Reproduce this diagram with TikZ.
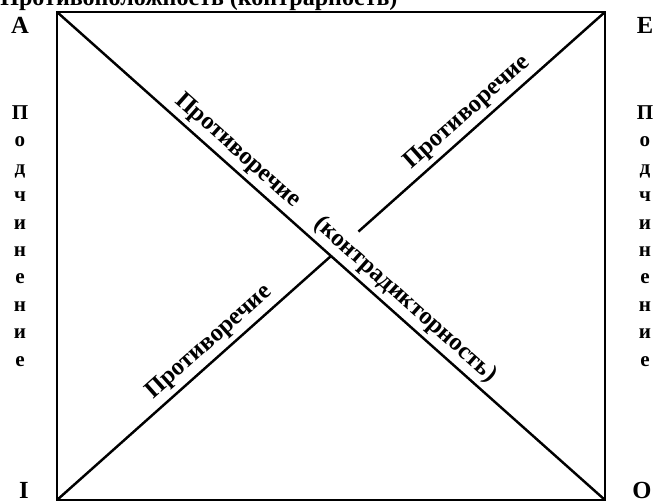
\documentclass[tikz,border=0pt]{standalone}
\usepackage{fontspec}
\setmainfont{Liberation Serif}
\usetikzlibrary{positioning,calc}

\begin{document}
\begin{tikzpicture}[x=0.02cm, y=-0.02cm,
  edge/.style={line width=1.4pt},
  title/.style={font=\fontsize{13.7}{15}\selectfont\bfseries, inner sep=0pt},
  corner/.style={font=\fontsize{14}{15}\selectfont\bfseries, inner sep=0pt},
  vword/.style={font=\fontsize{12}{15.6}\selectfont\bfseries, align=center, inner sep=0pt},
  diag/.style={font=\fontsize{14}{15}\selectfont\bfseries, sloped, above, inner sep=2.5pt}]
\useasboundingbox (0,0) rectangle (658,503);
% corners of the square
\coordinate (a) at (57,12);
\coordinate (e) at (605,12);
\coordinate (i) at (57,500);
\coordinate (o) at (605,500);
\coordinate (mid) at ($(a)!0.5!(o)$);
\coordinate (gap) at ($(i)!0.55!(e)$);
\node[title, anchor=base west] (ttl) at (0,6) {Противоположность (контрарность)};
\node[corner] (la) at (20,25) {A};
\node[corner] (le) at (645,25) {E};
\node[corner] (li) at (24,490) {I};
\node[corner] (lo) at (642,490) {O};
\node[vword] (sl) at (20,236) {П\\о\\д\\ч\\и\\н\\е\\н\\и\\е};
\node[vword] (sr) at (645,236) {П\\о\\д\\ч\\и\\н\\е\\н\\и\\е};
\draw[edge] (a) -- (e) -- (o) -- (i) -- cycle;
\draw[edge] (a) -- node[diag, pos=0.31] {Противоречие}
  node[diag, pos=0.615] {(контрадикторность)} (o);
\draw[edge] (i) -- node[diag, pos=0.595] {Противоречие} (mid);
\draw[edge] (gap) -- node[diag, pos=0.485] {Противоречие} (e);
\end{tikzpicture}
\end{document}
